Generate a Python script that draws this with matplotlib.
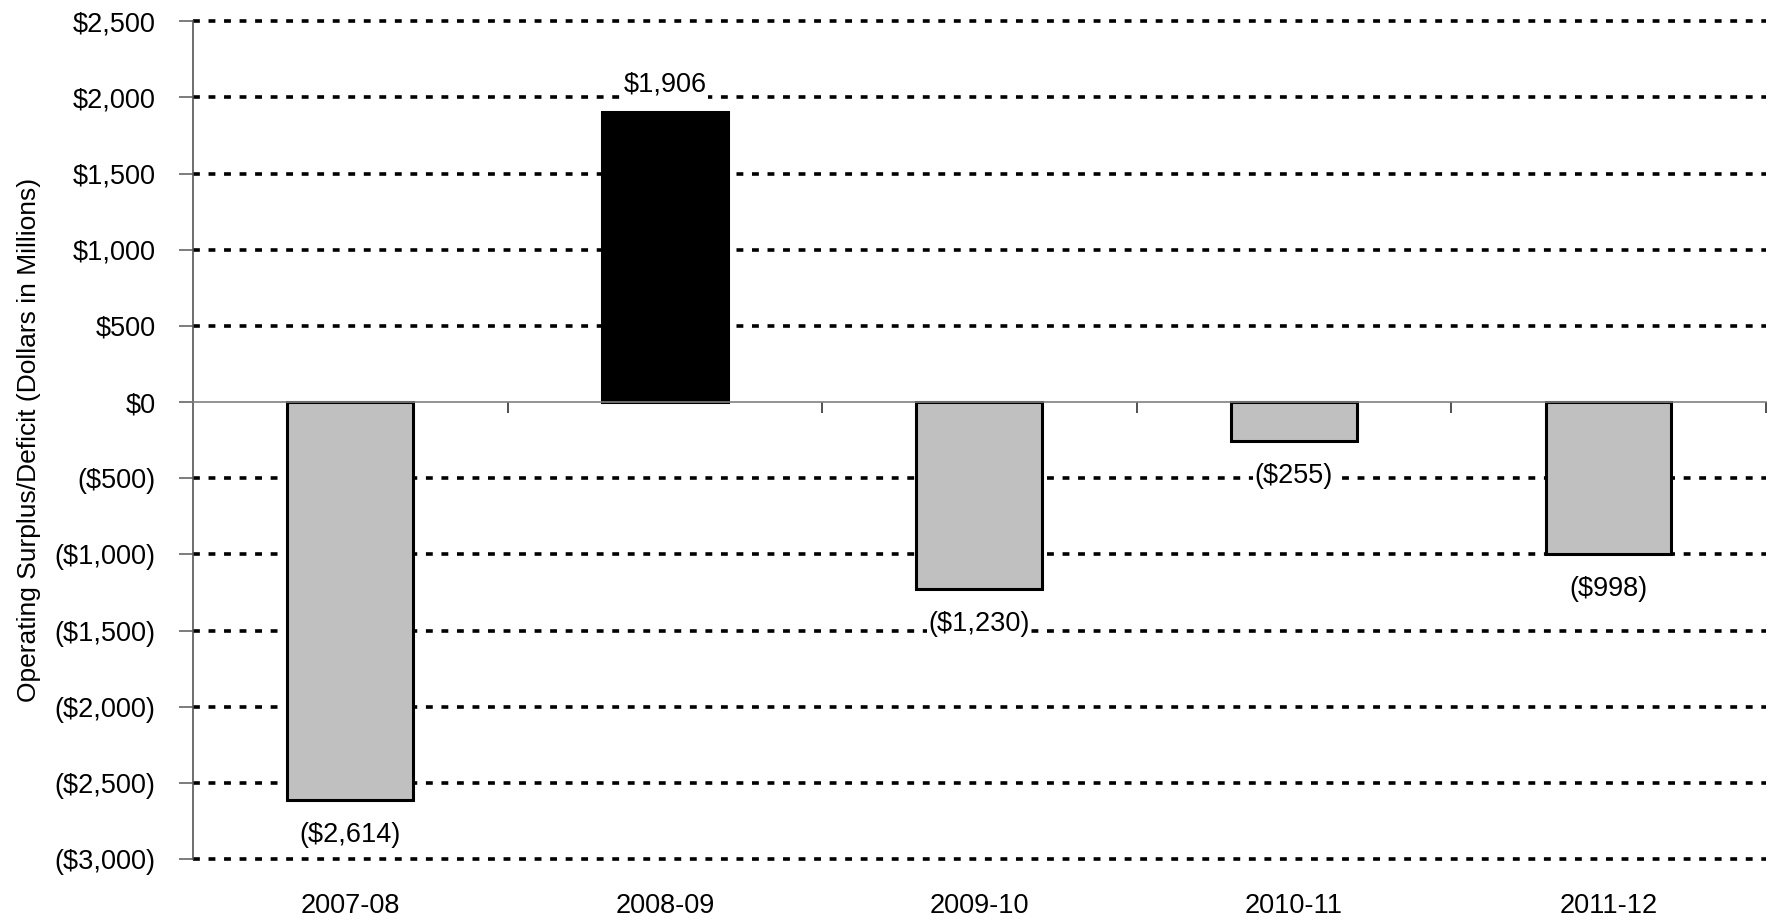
import matplotlib
matplotlib.use("Agg")
import matplotlib.pyplot as plt
from matplotlib.ticker import FuncFormatter

plt.rcParams['font.family'] = ['Liberation Sans', 'DejaVu Sans']

years = ['2007-08', '2008-09', '2009-10', '2010-11', '2011-12']
balance = [-2614, 1906, -1230, -255, -998]
y_ticks = list(range(-3000, 2501, 500))


def money(v, pos=None):
    if v < 0:
        return '(${:,.0f})'.format(-v)
    return '${:,.0f}'.format(v)


fig = plt.figure(figsize=(17.71, 9.23), dpi=100)
ax = fig.add_axes([0.109, 0.0693, 0.888, 0.9077])

x = range(len(years))
colors = ['black' if v > 0 else '#c0c0c0' for v in balance]
bars = ax.bar(x, balance, width=0.4, color=colors, edgecolor='black',
              linewidth=2.2, zorder=3)

# value labels: above positive bars, below negative ones
for i, v in enumerate(balance):
    if v >= 0:
        ax.annotate(money(v), (i, v), xytext=(0, 10), textcoords='offset points',
                    ha='center', va='bottom', fontsize=19.5, zorder=4,
                    bbox=dict(facecolor='white', edgecolor='none', pad=1))
    else:
        ax.annotate(money(v), (i, v), xytext=(0, -25), textcoords='offset points',
                    ha='center', va='center', fontsize=19.5, zorder=4,
                    bbox=dict(facecolor='white', edgecolor='none', pad=1))

ax.set_xlim(-0.5, len(years) - 0.5)
ax.set_ylim(-3000, 2500)
ax.set_yticks(y_ticks)
ax.yaxis.set_major_formatter(FuncFormatter(money))
ax.tick_params(axis='y', labelsize=19.5, length=10, width=1.2, color='#666666', pad=17)

# dashed horizontal gridlines
for t in y_ticks:
    if t != 0:
        ax.axhline(t, color='black', linewidth=2.6, dashes=(1.9, 2.4),
                   zorder=1, clip_on=False)

# x axis sits on zero, with ticks between the categories
ax.spines['bottom'].set_position(('data', 0))
ax.spines['bottom'].set_color('#808080')
ax.spines['bottom'].set_linewidth(1.2)
ax.spines['bottom'].set_zorder(5)
ax.spines['left'].set_color('#555555')
ax.spines['left'].set_linewidth(1.2)
ax.spines['top'].set_visible(False)
ax.spines['right'].set_visible(False)
ax.set_xticks([i + 0.5 for i in range(len(years))])
ax.set_xticklabels([])
ax.tick_params(axis='x', direction='out', length=8, width=1.2, color='#333333')

for i, lab in enumerate(years):
    ax.text(i, -0.056, lab, transform=ax.get_xaxis_transform(),
            ha='center', va='center', fontsize=19.5)

ax.set_ylabel('Operating Surplus/Deficit (Dollars in Millions)', fontsize=19, labelpad=10)

fig.savefig('out.png', dpi=100)
